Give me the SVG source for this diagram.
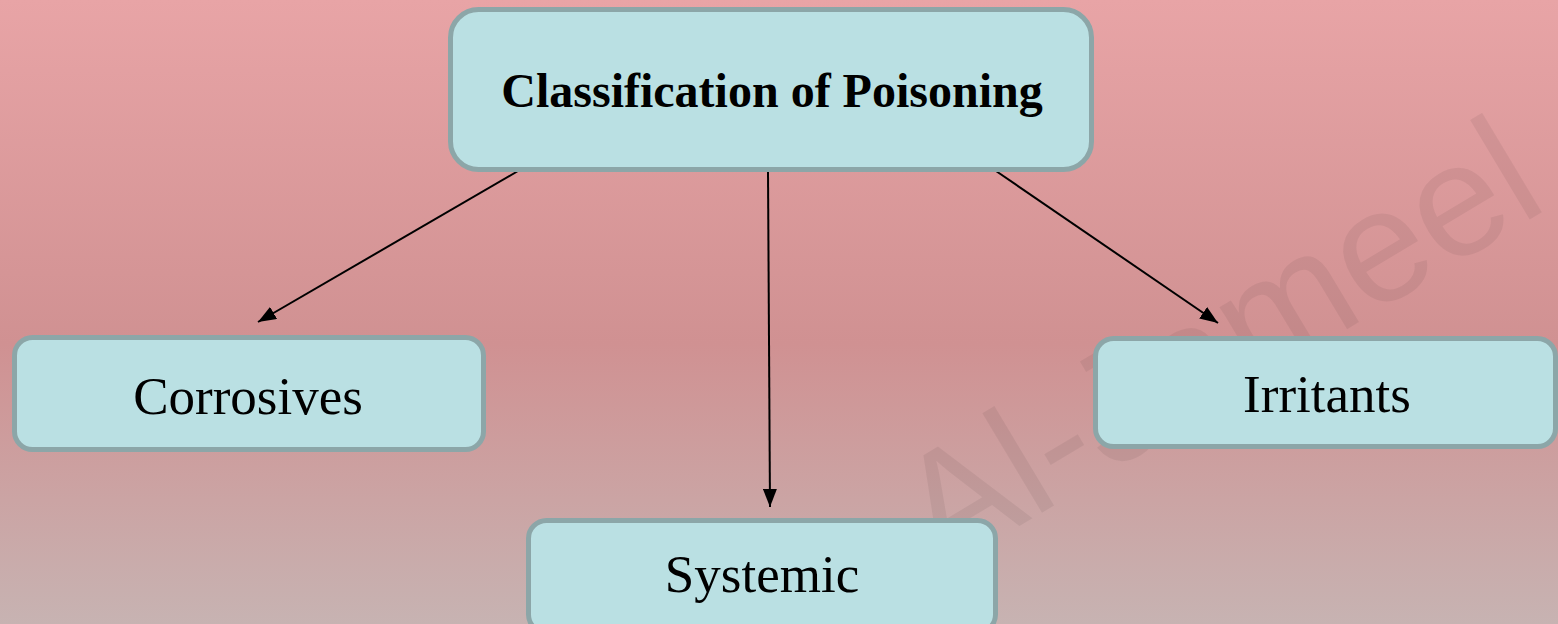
<svg xmlns="http://www.w3.org/2000/svg" width="1558" height="624" viewBox="0 0 1558 624">
<defs>
<linearGradient id="bg" x1="0" y1="0" x2="0" y2="1">
<stop offset="0" stop-color="#e8a4a6"/>
<stop offset="0.55" stop-color="#d09192"/>
<stop offset="1" stop-color="#c7b3b2"/>
</linearGradient>
<marker id="arrow" markerUnits="userSpaceOnUse" markerWidth="18" markerHeight="14" refX="18" refY="7" orient="auto">
<path d="M0,0 L18,7 L0,14 Z" fill="#000"/>
</marker>
<style>
.box{fill:#bae0e3;stroke:#8ca6a8;stroke-width:5}
.lbl{font-family:"Liberation Serif","Times New Roman",serif;font-size:53px;fill:#000;text-anchor:middle}
.title{font-family:"Liberation Serif","Times New Roman",serif;font-size:48px;font-weight:bold;fill:#000;text-anchor:middle}
.conn{stroke:#000;stroke-width:2;fill:none;marker-end:url(#arrow)}
.wm{font-family:"Liberation Sans",Arial,sans-serif;font-size:160px;fill:#000;fill-opacity:0.06}
</style>
</defs>
<rect x="0" y="0" width="1558" height="624" fill="url(#bg)"/>
<text class="wm" transform="translate(941.3,573.1) rotate(-31)">Al-Jameel</text>
<g id="connectors">
<line class="conn" x1="518" y1="171" x2="258" y2="322"/>
<line class="conn" x1="768" y1="172" x2="770" y2="507"/>
<line class="conn" x1="996" y1="171" x2="1218" y2="323"/>
</g>
<g id="node-classification">
<rect class="box" x="450.5" y="9.5" width="641" height="160" rx="28"/>
<text class="title" x="772" y="107">Classification of Poisoning</text>
</g>
<g id="node-corrosives">
<rect class="box" x="14.5" y="337.5" width="469" height="112" rx="18"/>
<text class="lbl" x="248" y="414">Corrosives</text>
</g>
<g id="node-irritants">
<rect class="box" x="1095.5" y="338.5" width="460" height="108" rx="18"/>
<text class="lbl" x="1327" y="412">Irritants</text>
</g>
<g id="node-systemic">
<rect class="box" x="528.5" y="520.5" width="467" height="112" rx="18"/>
<text class="lbl" x="762" y="592">Systemic</text>
</g>
</svg>
